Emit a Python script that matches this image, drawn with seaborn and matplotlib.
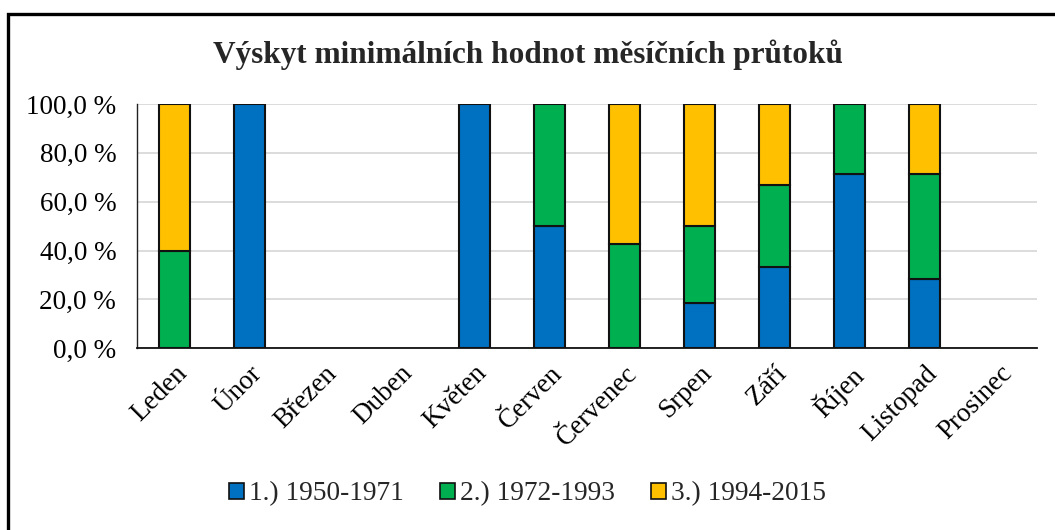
import numpy as np
import pandas as pd
import matplotlib
matplotlib.use("Agg")
import matplotlib.pyplot as plt
from matplotlib.patches import Patch, Rectangle
from matplotlib.ticker import FuncFormatter, MultipleLocator
import seaborn as sns

# ------------------------------
# Data (share of minimum monthly flows per period, %)
# ------------------------------
months = ["Leden", "Únor", "Březen", "Duben", "Květen", "Červen",
          "Červenec", "Srpen", "Září", "Říjen", "Listopad", "Prosinec"]
p1_1950_1971 = [0.0, 100.0, 0.0, 0.0, 100.0, 50.0, 0.0, 18.75, 33.33, 71.43, 28.57, 0.0]
p2_1972_1993 = [40.0, 0.0, 0.0, 0.0, 0.0, 50.0, 42.86, 31.25, 33.33, 28.57, 42.86, 0.0]
p3_1994_2015 = [60.0, 0.0, 0.0, 0.0, 0.0, 0.0, 57.14, 50.0, 33.34, 0.0, 28.57, 0.0]
series_labels = ["1.) 1950-1971", "2.) 1972-1993", "3.) 1994-2015"]
colors = ["#0070c0", "#00b050", "#ffc000"]

sns.set_style("white")
plt.rcParams["font.family"] = ["Liberation Serif", "DejaVu Serif"]

fig = plt.figure(figsize=(10.55, 5.3), dpi=100)
ax = fig.add_axes([0.1299, 0.3428, 0.8528, 0.461])

# ------------------------------
# Stacked bars
# ------------------------------
bottom = np.zeros(len(months))
for vals, col in zip([p1_1950_1971, p2_1972_1993, p3_1994_2015], colors):
    df = pd.DataFrame({"month": months, "value": vals})
    sns.barplot(data=df, x="month", y="value", bottom=bottom, color=col,
                width=0.41, edgecolor="#111111", linewidth=1.5,
                saturation=1, ax=ax, zorder=3)
    bottom = bottom + np.array(vals)

# hide empty segments (no outline for zero-height bars)
for p in ax.patches:
    if p.get_height() == 0:
        p.set_visible(False)

ax.set_ylim(0, 100)
ax.set_xlim(-0.5, len(months) - 0.5)
ax.yaxis.set_major_locator(MultipleLocator(20))
ax.yaxis.set_major_formatter(FuncFormatter(lambda v, p: f"{v:.1f}".replace(".", ",") + " %"))
ax.grid(axis="y", color="#d9d9d9", linewidth=1.3, zorder=0)
ax.set_axisbelow(True)
ax.set_xlabel("")
ax.set_ylabel("")

for s in ["top", "right"]:
    ax.spines[s].set_visible(False)
ax.spines["bottom"].set_color("#111111")
ax.spines["bottom"].set_linewidth(1.3)
ax.spines["left"].set_color("#222222")
ax.spines["left"].set_linewidth(1.0)

ax.tick_params(axis="both", length=0, labelsize=19.5, colors="black")
ax.tick_params(axis="y", pad=15)
ax.tick_params(axis="x", pad=9)
plt.setp(ax.get_xticklabels(), rotation=45, ha="right", rotation_mode="anchor")

fig.text(0.5, 0.897, "Výskyt minimálních hodnot měsíčních průtoků",
         ha="center", va="center", fontsize=22.5, fontweight="bold")

handles = [Patch(facecolor=c, edgecolor="#111111", linewidth=1.2) for c in colors]
fig.legend(handles, series_labels, loc="center", bbox_to_anchor=(0.5, 0.068),
           ncol=3, frameon=False, fontsize=19.7, handlelength=0.55,
           handleheight=0.55, handletextpad=0.2, columnspacing=1.3)

# outer chart frame
fig.patches.append(Rectangle((8 / 1055, -0.05), 1.1, 1 - 14 / 530 + 0.05,
                             transform=fig.transFigure, fill=False,
                             edgecolor="black", linewidth=2.4))

fig.savefig("out.png", dpi=100)
